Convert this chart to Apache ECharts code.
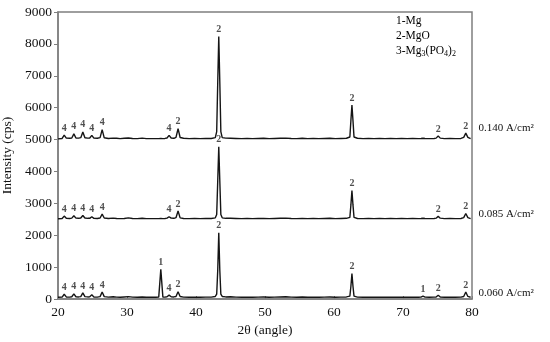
<!DOCTYPE html>
<html>
<head>
<meta charset="utf-8">
<script src="https://cdn.jsdelivr.net/npm/echarts@6/dist/echarts.min.js"></script>
<style>html,body{margin:0;padding:0;background:#fff}#c{width:550px;height:342px}</style>
</head>
<body>
<div id="c"></div>
<script>
// 2θ positions (degrees)
var angles = [20.0,20.6,20.9,21.2,21.7,22.0,22.3,22.6,23.0,23.3,23.6,23.9,24.3,24.6,24.9,25.2,25.7,26.1,26.4,26.7,
27.3,28.0,28.5,29.0,29.6,30.2,30.8,31.5,32.2,32.8,33.5,34.2,34.6,34.9,35.2,35.5,35.8,36.1,36.4,36.8,
37.1,37.4,37.7,38.2,39.0,39.8,40.6,41.4,42.2,42.8,43.0,43.15,43.3,43.45,43.6,43.8,44.3,45.0,45.8,46.6,
47.4,48.2,49.0,49.8,50.6,51.4,52.2,53.0,53.8,54.6,55.4,56.2,57.0,57.8,58.6,59.4,60.2,61.0,61.8,62.3,
62.45,62.6,62.75,62.9,63.4,64.2,65.0,65.8,66.6,67.4,68.2,69.0,69.8,70.6,71.4,72.2,72.6,72.9,73.2,73.8,
74.5,74.8,75.1,75.4,76.0,76.8,77.6,78.4,78.8,79.1,79.4,79.8];

// Intensity (cps), 0.060 A/cm²
var int060 = [55,60,150,65,60,70,160,70,65,75,190,75,65,70,130,65,60,75,220,75,
60,70,60,55,65,75,60,55,65,55,55,55,60,930,60,60,70,120,70,65,
80,230,80,60,55,60,55,60,60,80,150,900,2080,900,150,80,65,70,60,55,
60,55,60,65,55,60,65,70,60,55,65,55,60,55,60,65,55,60,65,90,
400,800,400,90,60,55,60,55,60,55,60,55,60,55,60,55,60,90,60,55,
60,65,120,65,55,60,55,60,80,220,80,55];

// Intensity (cps), 0.085 A/cm²
var int085 = [2515,2525,2600,2530,2525,2535,2610,2535,2530,2540,2620,2540,2530,2530,2580,2530,2525,2540,2660,2540,
2525,2535,2525,2520,2525,2545,2525,2520,2530,2520,2520,2520,2520,2525,2520,2525,2535,2580,2535,2530,
2550,2760,2545,2525,2520,2525,2520,2525,2525,2545,2650,3700,4770,3700,2650,2545,2530,2530,2525,2520,
2525,2520,2525,2525,2520,2525,2530,2535,2525,2520,2525,2520,2525,2520,2525,2530,2520,2525,2530,2560,
2950,3400,2950,2560,2525,2520,2525,2520,2525,2520,2525,2520,2525,2520,2525,2520,2525,2530,2525,2520,
2525,2535,2590,2535,2520,2525,2520,2525,2550,2680,2550,2520];

// Intensity (cps), 0.140 A/cm²
var int140 = [5020,5035,5140,5045,5040,5050,5180,5050,5045,5060,5240,5055,5045,5050,5130,5045,5040,5060,5310,5055,
5035,5045,5040,5030,5040,5050,5035,5030,5045,5030,5030,5030,5030,5035,5030,5035,5050,5130,5050,5040,
5070,5340,5065,5040,5030,5035,5030,5035,5035,5060,5250,6800,8230,6800,5250,5060,5045,5040,5035,5030,
5035,5030,5035,5040,5030,5035,5040,5045,5035,5030,5040,5030,5035,5030,5035,5040,5030,5035,5040,5080,
5600,6080,5600,5080,5040,5030,5035,5030,5035,5030,5035,5030,5035,5030,5035,5030,5035,5040,5035,5030,
5035,5045,5110,5045,5030,5035,5030,5035,5070,5200,5070,5030];

// Peak tags
var tagAngles060 = [20.9,22.3,23.6,24.9,26.4,34.9,36.1,37.4,43.3,62.6,72.9,75.1,79.1];
var tagText060   = ['4','4','4','4','4','1','4','2','2','2','1','2','2'];
var tagAngles085 = [20.9,22.3,23.6,24.9,26.4,36.1,37.4,43.3,62.6,75.1,79.1];
var tagText085   = ['4','4','4','4','4','4','2','2','2','2','2'];
var tagAngles140 = [20.9,22.3,23.6,24.9,26.4,36.1,37.4,43.3,62.6,75.1,79.1];
var tagText140   = ['4','4','4','4','4','4','2','2','2','2','2'];

var seriesNames = ['0.060 A/cm²','0.085 A/cm²','0.140 A/cm²'];
var yTicks = [0,1000,2000,3000,4000,5000,6000,7000,8000,9000];
var xTicks = [20,30,40,50,60,70,80];

var FONT = '"Liberation Serif", "Times New Roman", serif';

function pairs(ys){ return angles.map(function(a,i){ return [a, ys[i]]; }); }
function tags(ta, tt, ys){
  return ta.map(function(a,i){ return {value:[a, ys[angles.indexOf(a)]], tag: tt[i]}; });
}
function lineSeries(name, ys, dy){
  return {
    name: name, type:'line', data: pairs(ys), showSymbol:false, symbol:'none',
    lineStyle:{color:'#151515', width:1.4}, animation:false,
    endLabel:{show:true, formatter: name, fontFamily: FONT, fontSize: 11, color:'#111', distance: 8, offset:[0,dy]}
  };
}
function tagSeries(ta, tt, ys){
  return {
    type:'scatter', data: tags(ta, tt, ys), symbolSize: 0, animation:false, silent:true,
    label:{show:true, position:'top', distance:2, formatter:function(p){return p.data.tag;},
      fontFamily: FONT, fontWeight:'bold', fontSize: 10, color:'#222'}
  };
}

var chart = echarts.init(document.getElementById('c'), null, {renderer:'canvas'});
chart.setOption({
  backgroundColor:'#fff',
  animation:false,
  grid:{left:58, right:78, top:12, bottom:43, containLabel:false, outerBoundsMode:'none',
    show:true, borderColor:'#7f7f7f', borderWidth:1.5, backgroundColor:'transparent'},
  xAxis:{
    type:'value', min:xTicks[0], max:xTicks[xTicks.length-1], interval:10,
    name:'2θ (angle)', nameLocation:'middle', nameGap:22,
    nameTextStyle:{fontFamily:FONT, fontSize:13.5, color:'#111'},
    axisLine:{lineStyle:{color:'#7f7f7f', width:1.5}},
    axisTick:{inside:true, length:3, lineStyle:{color:'#7f7f7f'}},
    axisLabel:{fontFamily:FONT, fontSize:13.5, color:'#111', margin:6},
    splitLine:{show:false}
  },
  yAxis:{
    type:'value', min:yTicks[0], max:yTicks[yTicks.length-1], interval:1000,
    name:'Intensity (cps)', nameLocation:'middle', nameGap:36,
    nameTextStyle:{fontFamily:FONT, fontSize:13.5, color:'#111'},
    axisLine:{show:true, lineStyle:{color:'#7f7f7f', width:1.5}},
    axisTick:{show:true, inside:false, length:4, lineStyle:{color:'#7f7f7f'}},
    axisLabel:{fontFamily:FONT, fontSize:13.5, color:'#111', margin:6, formatter:function(v){return String(v);}},
    splitLine:{show:false}
  },
  graphic:[{
    type:'text', left:396, top:15,
    style:{
      text:'{a|1-Mg}\n{a|2-MgO}\n{a|3-Mg}{s|3}{a|(PO}{s|4}{a|)}{s|2}',
      rich:{
        a:{fontFamily:FONT, fontSize:11.5, color:'#111', lineHeight:15},
        s:{fontFamily:FONT, fontSize:8, color:'#111', lineHeight:15, padding:[6,0,0,0]}
      }
    }
  }],
  series:[
    lineSeries(seriesNames[0], int060, -4),
    lineSeries(seriesNames[1], int085, -5),
    lineSeries(seriesNames[2], int140, -10),
    tagSeries(tagAngles060, tagText060, int060),
    tagSeries(tagAngles085, tagText085, int085),
    tagSeries(tagAngles140, tagText140, int140)
  ]
});
</script>
</body>
</html>
